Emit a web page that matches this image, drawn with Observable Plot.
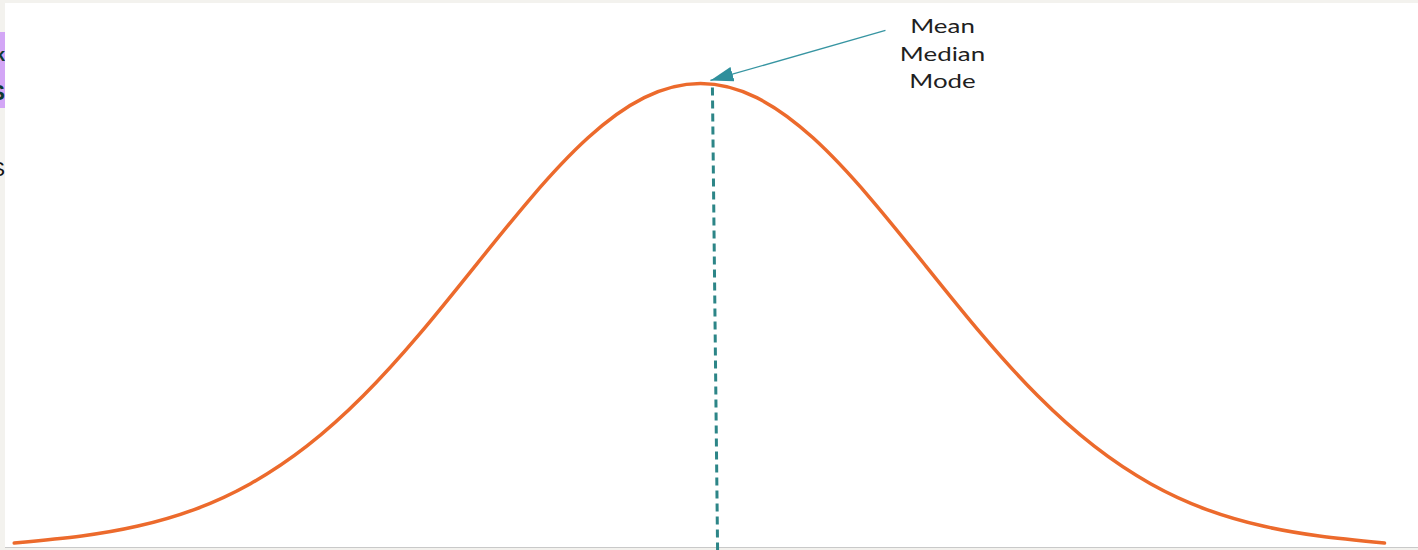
<!DOCTYPE html>
<html>
<head>
<meta charset="utf-8">
<script src="https://cdn.jsdelivr.net/npm/d3@7"></script>
<script src="https://cdn.jsdelivr.net/npm/@observablehq/plot@0.6"></script>
<style>
  html, body { margin: 0; padding: 0; background: #f3f2ee; width: 1418px; height: 550px; overflow: hidden; }
  #paper { position: absolute; left: 5px; top: 3px; width: 1413px; height: 544px; background: #ffffff; border-bottom: 1.5px solid #c9c9c9; }
  #chart { position: absolute; left: 0; top: 0; }
  .clip { position: absolute; left: 0; width: 5px; overflow: hidden; }
  .clip span { position: absolute; right: 0; font-family: "Liberation Sans", sans-serif; white-space: nowrap; line-height: 1; }
</style>
</head>
<body>
<div id="paper"></div>
<div class="clip" style="top:32px;height:76px;background:#d3a6f6;">
  <span style="top:13px;font-size:19px;color:#0e3b30;font-weight:bold;">k</span>
  <span style="top:50px;font-size:22px;color:#0e3b30;font-weight:bold;">S</span>
</div>
<div class="clip" style="top:156px;height:24px;">
  <span style="top:2px;font-size:21px;color:#111;">S</span>
</div>
<div id="chart"></div>
<script>
// Bell curve (x in standard deviations, y = density)
const curveX = [-3.05, -2.75, -2.5, -2.25, -2.0, -1.75, -1.5, -1.25, -1.0, -0.75, -0.5, -0.25, 0, 0.25, 0.5, 0.75, 1.0, 1.25, 1.5, 1.75, 2.0, 2.25, 2.5, 2.75, 3.04];
const curveY = [0.0030, 0.0091, 0.0176, 0.0318, 0.0541, 0.0864, 0.1296, 0.1827, 0.2420, 0.3011, 0.3521, 0.3867, 0.3989, 0.3867, 0.3521, 0.3011, 0.2420, 0.1827, 0.1296, 0.0864, 0.0541, 0.0318, 0.0176, 0.0091, 0.0030];

// Mean / median / mode marker line (dashed)
const meanLineX = [0.053, 0.076];
const meanLineY = [0.3955, -0.0034];

// Annotation arrow (from label to peak)
const arrowX = [0.822, 0.044];
const arrowY = [0.4446, 0.4015];

// Label
const labelLines = ["Mean", "Median", "Mode"];
const labelX = 1.0756;
const labelY = 0.4262;

const curve = curveX.map((x, i) => ({x, y: curveY[i]}));

const plot = Plot.plot({
  width: 1418,
  height: 550,
  margin: 0,
  style: {background: "transparent", overflow: "visible"},
  x: {domain: [-3.111, 3.191], range: [0, 1418], axis: null},
  y: {domain: [0, 0.3989], range: [546, 83], axis: null},
  marks: [
    Plot.line(curve, {x: "x", y: "y", stroke: "#ec6a2c", strokeWidth: 3.5, curve: "natural"}),
    Plot.link([0], {x1: () => meanLineX[0], y1: () => meanLineY[0], x2: () => meanLineX[1], y2: () => meanLineY[1], stroke: "#2c8587", strokeWidth: 3, strokeDasharray: "8,5"}),
    Plot.link([0], {x1: () => arrowX[0], y1: () => arrowY[0], x2: () => arrowX[1], y2: () => arrowY[1], stroke: "#3795a2", strokeWidth: 1.3}),
    Plot.text([labelLines.join("\n")], {x: () => labelX, y: () => labelY, text: d => d, fontSize: 18.5, lineHeight: 1.48, fill: "#1f1f1f", fontFamily: "Lato, 'Open Sans', sans-serif", textAnchor: "middle", lineAnchor: "middle"})
  ]
});
document.getElementById("chart").appendChild(plot);

// filled arrowhead marker
const svg = d3.select(plot);
const defs = svg.insert("defs", ":first-child");
defs.append("marker")
  .attr("id", "tri-head")
  .attr("viewBox", "0 0 23 15")
  .attr("refX", 23).attr("refY", 7.5)
  .attr("markerWidth", 23).attr("markerHeight", 15)
  .attr("markerUnits", "userSpaceOnUse")
  .attr("orient", "auto")
  .append("path").attr("d", "M0,0L23,7.5L0,15Z").attr("fill", "#2f8f9c");
const links = plot.querySelectorAll('g[aria-label="link"]');
if (links.length > 1) links[1].querySelectorAll("path").forEach(p => p.setAttribute("marker-end", "url(#tri-head)"));

// horizontally stretched label text, as in the picture
plot.querySelectorAll('g[aria-label="text"] text').forEach(t => {
  const tr = t.getAttribute("transform");
  if (tr && tr.includes("translate")) {
    t.setAttribute("transform", tr + " scale(1.4,1)");
  } else {
    const x = +t.getAttribute("x") || 0;
    t.setAttribute("transform", `translate(${x},0) scale(1.4,1) translate(${-x},0)`);
  }
});
</script>
</body>
</html>
